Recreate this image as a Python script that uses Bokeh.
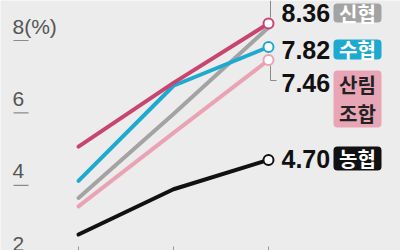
from bokeh.plotting import figure
from bokeh.models import BoxAnnotation, Range1d
from bokeh.core.properties import value
from bokeh.embed import file_html
from bokeh.resources import INLINE

# ---- data ----
periods = [0, 1, 2]
crimson_vals = [5.07, 6.83, 8.47]
shin_vals = [3.65, 5.97, 8.36]      # 신협
su_vals = [4.12, 6.75, 7.82]        # 수협
sanrim_vals = [3.42, 5.45, 7.46]    # 산림조합
nong_vals = [2.64, 3.89, 4.70]      # 농협
y_ticks = [2, 4, 6, 8]
y_tick_labels = ["2", "4", "6", "8(%)"]

# ---- layout helpers (pixel -> data) ----
W, H = 400, 250
X0, DX = 78, 95
Y8, DY = 40, 36.2
def xd(px): return (px - X0) / DX
def yd(py): return 8 - (py - Y8) / DY

BG = "#ececec"
NARROW = "Liberation Sans Narrow, Arial Narrow, Liberation Sans, sans-serif"
KR = "Noto Sans CJK KR"

C_CRIMSON = "#c8456f"
C_GRAY = "#a3a3a3"
C_CYAN = "#1eaad0"
C_PINK = "#eaa3b4"
C_BLACK = "#111111"

p = figure(width=W, height=H, output_backend="svg", toolbar_location=None,
           x_range=Range1d(xd(0), xd(W)), y_range=Range1d(yd(H), yd(0)),
           x_axis_type=None, y_axis_type=None, min_border=0)
p.background_fill_color = BG
p.border_fill_color = BG
p.outline_line_color = None
p.grid.visible = False

# y tick labels with underline (label sits above its underline)
LABEL_GAP = 14 / DY
p.text(x=[xd(12)] * len(y_ticks), y=[t + LABEL_GAP for t in y_ticks], text=y_tick_labels,
       text_font=value(NARROW), text_font_size="21px", text_color="#555555",
       text_baseline="alphabetic", text_align="left")
p.segment(x0=[xd(13)] * len(y_ticks), x1=[xd(28)] * len(y_ticks),
          y0=y_ticks, y1=y_ticks, line_color="#8a8a8a", line_width=1.2)

# bottom ticks
p.segment(x0=periods, x1=periods, y0=[yd(250)] * 3, y1=[yd(246)] * 3,
          line_color="#999999", line_width=1)

# leader lines
p.line(x=[xd(270), xd(270)], y=[yd(0), yd(17)], line_color="#8a8a8a", line_width=1)
p.line(x=[xd(270), xd(270), xd(276)], y=[yd(65), yd(80), yd(80)],
       line_color="#8a8a8a", line_width=1)

# series lines
series = [
    (shin_vals, C_GRAY),
    (sanrim_vals, C_PINK),
    (nong_vals, C_BLACK),
    (su_vals, C_CYAN),
    (crimson_vals, C_CRIMSON),
]
for vals, col in series:
    p.line(periods, vals, line_color=col, line_width=4,
           line_cap="round", line_join="round")

# end circles
for vals, col in [(sanrim_vals, C_PINK), (nong_vals, C_BLACK),
                  (su_vals, C_CYAN), (crimson_vals, C_CRIMSON)]:
    p.scatter([periods[-1]], [vals[-1]], size=10, fill_color="white",
              line_color=col, line_width=2)

# value labels
val_labels = [(shin_vals[-1], 12), (su_vals[-1], 49), (sanrim_vals[-1], 82), (nong_vals[-1], 158)]
for v, py in val_labels:
    p.text(x=[xd(281)], y=[yd(py)], text=[f"{v:.2f}"], text_font=value(NARROW),
           text_font_size="25px", text_font_style="bold", text_color="#111111",
           text_baseline="middle", text_align="left")

# name boxes
boxes = [
    (["신협"], 3, 22, C_GRAY, "white"),
    (["수협"], 39, 59, C_CYAN, "white"),
    (["산림", "조합"], 70, 127, "#e7a5b6", "#222222"),
    (["농협"], 146, 170, C_BLACK, "white"),
]
for lines, top, bot, fill, tcol in boxes:
    p.add_layout(BoxAnnotation(left=xd(333), right=xd(381), top=yd(top), bottom=yd(bot),
                               fill_color=fill, fill_alpha=1, line_color=None,
                               border_radius=4, level="underlay"))
    n = len(lines)
    step = (bot - top) / n
    for i, t in enumerate(lines):
        cy = top + step * (i + 0.5)
        p.text(x=[xd(357)], y=[yd(cy)], text=[t], text_font=value(KR),
               text_font_size="20px", text_font_style="bold", text_color=tcol,
               text_baseline="middle", text_align="center")

open("out.html", "w").write(file_html(p, INLINE))
